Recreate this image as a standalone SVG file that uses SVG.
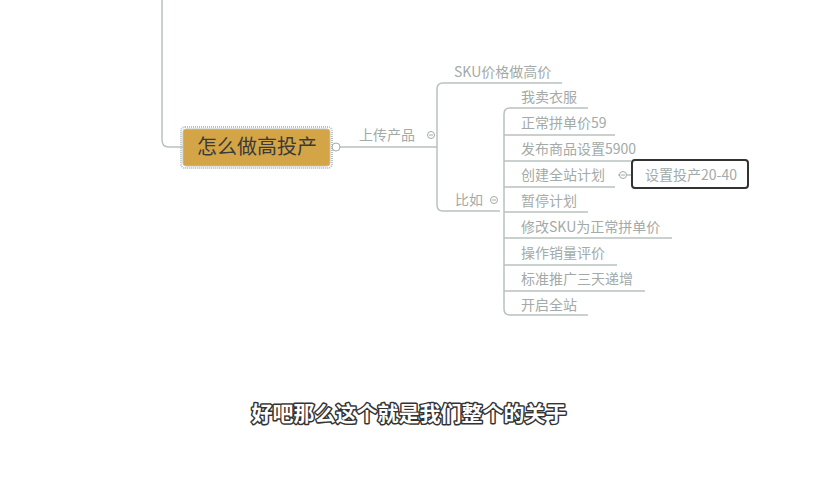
<svg xmlns="http://www.w3.org/2000/svg" width="820" height="480" viewBox="0 0 820 480">
<style>
.ln{fill:none;stroke:#b9c1bd;stroke-width:1.5}
.t{font-family:"Noto Sans CJK SC","Noto Sans",sans-serif;font-size:14px;fill:#a3aaa7}
.cc{fill:#fff;stroke:#a3aaa7;stroke-width:1}
.sub{font-family:"Noto Sans CJK SC",sans-serif;font-size:21px;font-weight:bold;fill:#fff;stroke:#333;stroke-width:3;paint-order:stroke;stroke-linejoin:round}
</style>
<rect width="820" height="480" fill="#fff"/>
<g id="connectors">
<path class="ln" d="M162 0 V140 Q162 147 169 147 H183"/>
<path class="ln" d="M340 147 H437"/>
<path class="ln" d="M562 83 H443 Q437 83 437 89 V205 Q437 211 443 211 H500"/>
<path class="ln" d="M588 108 H510 Q504 108 504 114 V309 Q504 315 510 315 H588"/>
<path class="ln" d="M504 135 H615"/>
<path class="ln" d="M504 161 H631"/>
<path class="ln" d="M504 187 H615"/>
<path class="ln" d="M504 212 H588"/>
<path class="ln" d="M504 238 H672"/>
<path class="ln" d="M504 265 H617"/>
<path class="ln" d="M504 291 H645"/>
<path class="ln" d="M618 175 H632"/>
</g>
<g id="root">
<rect x="181" y="127" width="151" height="41" rx="4" fill="none" stroke="#b9c1bd" stroke-width="2" stroke-dasharray="1 1"/>
<rect x="183" y="129" width="147" height="37" rx="3" fill="#d4a546" stroke="#b9c1bd" stroke-width="1"/>
<text x="257" y="154" text-anchor="middle" font-family="'Noto Sans CJK SC',sans-serif" font-size="20" fill="#3a3a3a">怎么做高投产</text>
<circle cx="336" cy="147" r="4" class="cc"/>
</g>
<g id="n-upload">
<text class="t" x="359" y="140">上传产品</text>
<circle cx="431" cy="135" r="3.5" class="cc"/><path d="M429 135 H433" stroke="#a3aaa7"/>
</g>
<g id="n-sku"><text class="t" x="454" y="77">SKU价格做高价</text></g>
<g id="n-biru">
<text class="t" x="455" y="205">比如</text>
<circle cx="494" cy="200" r="3.5" class="cc"/><path d="M492 200 H496" stroke="#a3aaa7"/>
</g>
<g id="n1"><text class="t" x="521" y="102">我卖衣服</text></g>
<g id="n2"><text class="t" x="521" y="128">正常拼单价59</text></g>
<g id="n3"><text class="t" x="521" y="154">发布商品设置5900</text></g>
<g id="n4">
<text class="t" x="521" y="180">创建全站计划</text>
<circle cx="623" cy="175" r="3.5" class="cc"/><path d="M621 175 H625" stroke="#a3aaa7"/>
</g>
<g id="n4a">
<rect x="632" y="160" width="116" height="28" rx="3" fill="#fff" stroke="#333" stroke-width="2"/>
<text class="t" x="645" y="180">设置投产20-40</text>
</g>
<g id="n5"><text class="t" x="521" y="206">暂停计划</text></g>
<g id="n6"><text class="t" x="521" y="232">修改SKU为正常拼单价</text></g>
<g id="n7"><text class="t" x="521" y="258">操作销量评价</text></g>
<g id="n8"><text class="t" x="521" y="284">标准推广三天递增</text></g>
<g id="n9"><text class="t" x="521" y="310">开启全站</text></g>
<text class="sub" x="409" y="421" text-anchor="middle">好吧那么这个就是我们整个的关于</text>
</svg>
